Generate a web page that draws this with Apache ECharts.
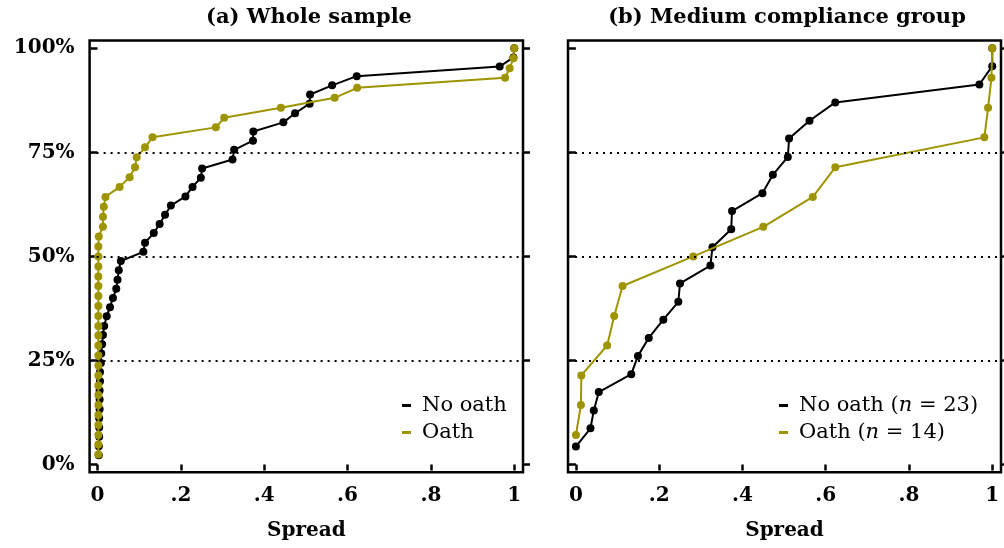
<!DOCTYPE html>
<html><head><meta charset="utf-8">
<script src="https://cdn.jsdelivr.net/npm/echarts@6/dist/echarts.min.js"></script>
<style>html,body{margin:0;padding:0;background:#fff}#c{width:1004px;height:548px}</style>
</head><body><div id="c"></div><script>
// ---- data ----
var panelTitles = ['(a) Whole sample', '(b) Medium compliance group'];
var xTicks = [0, 0.2, 0.4, 0.6, 0.8, 1];
var yTicks = [0, 25, 50, 75, 100];
var refLines = [25, 50, 75];

// Panel (a) whole sample: No oath (n = 45)
var aNoOathX = [0.003,0.003,0.004,0.004,0.004,0.005,0.005,0.005,0.006,0.006,0.008,0.009,0.011,0.013,0.016,0.022,0.030,0.037,0.045,0.048,0.051,0.056,0.110,0.114,0.135,0.149,0.162,0.176,0.211,0.228,0.248,0.251,0.324,0.328,0.373,0.374,0.446,0.474,0.509,0.510,0.563,0.622,0.965,0.998,1.0];
var aNoOathY = [2.2,4.4,6.7,8.9,11.1,13.3,15.6,17.8,20,22.2,24.4,26.7,28.9,31.1,33.3,35.6,37.8,40,42.2,44.4,46.7,48.9,51.1,53.3,55.6,57.8,60,62.2,64.4,66.7,68.9,71.1,73.3,75.6,77.8,80,82.2,84.4,86.7,88.9,91.1,93.3,95.6,97.8,100];
// Panel (a) whole sample: Oath (n = 42)
var aOathX = [0.002,0.002,0.002,0.002,0.002,0.002,0.002,0.002,0.002,0.002,0.002,0.002,0.002,0.002,0.002,0.002,0.002,0.002,0.002,0.002,0.002,0.002,0.003,0.013,0.013,0.015,0.019,0.053,0.077,0.090,0.094,0.114,0.132,0.284,0.304,0.440,0.569,0.623,0.978,0.989,0.998,1.0];
var aOathY = [2.4,4.8,7.1,9.5,11.9,14.3,16.7,19,21.4,23.8,26.2,28.6,31,33.3,35.7,38.1,40.5,42.9,45.2,47.6,50,52.4,54.8,57.1,59.5,61.9,64.3,66.7,69,71.4,73.8,76.2,78.6,81,83.3,85.7,88.1,90.5,92.9,95.2,97.6,100];
// Panel (b) medium compliance: No oath (n = 23)
var bNoOathX = [0.0,0.035,0.043,0.055,0.133,0.149,0.175,0.210,0.246,0.250,0.323,0.328,0.373,0.375,0.448,0.473,0.509,0.512,0.561,0.623,0.969,1.0,1.0];
var bNoOathY = [4.3,8.7,13,17.4,21.7,26.1,30.4,34.8,39.1,43.5,47.8,52.2,56.5,60.9,65.2,69.6,73.9,78.3,82.6,87,91.3,95.7,100];
// Panel (b) medium compliance: Oath (n = 14)
var bOathX = [0.0,0.012,0.013,0.075,0.092,0.112,0.282,0.450,0.569,0.623,0.981,0.990,0.998,1.0];
var bOathY = [7.1,14.3,21.4,28.6,35.7,42.9,50,57.1,64.3,71.4,78.6,85.7,92.9,100];

var seriesNames = ['No oath', 'Oath', 'No oath (n = 23)', 'Oath (n = 14)'];
var colNo = '#000000', colOath = '#9e9400';

function pairs(xs, ys) { return xs.map(function (x, i) { return [x, ys[i]]; }); }

var FONT = 'DejaVu Serif';
var grids = [
  { left: 89.6, top: 40.5, width: 433.4, height: 431.8 },
  { left: 568, top: 40.5, width: 433, height: 431.8 }
];
var chart = echarts.init(document.getElementById('c'), null, { renderer: 'canvas' });

function xAxisFor(gi) {
  return {
    type: 'value', gridIndex: gi, min: -0.019, max: 1.021,
    name: 'Spread', nameLocation: 'middle', nameGap: 48,
    nameTextStyle: { fontFamily: FONT, fontWeight: 'bold', fontSize: 20, color: '#000' },
    axisLine: { show: false },
    axisTick: { show: true, inside: false, length: 6, customValues: xTicks, lineStyle: { color: '#000', width: 2.5 } },
    axisLabel: { show: true, customValues: xTicks, margin: 13, fontFamily: FONT, fontWeight: 'bold', fontSize: 20, color: '#000',
      formatter: function (v) { if (v === 0) return '0'; if (v === 1) return '1'; return String(Math.round(v * 10) / 10).replace(/^0/, ''); } },
    splitLine: { show: false }
  };
}
function yAxisFor(gi, pos, labels) {
  return {
    type: 'value', gridIndex: gi, position: pos, min: -1.87, max: 101.87,
    axisLine: { show: false },
    axisTick: { show: true, inside: false, length: 7, customValues: yTicks, lineStyle: { color: '#000', width: 2.5 } },
    axisLabel: { show: labels, customValues: yTicks, margin: 15, fontFamily: FONT, fontWeight: 'bold', fontSize: 20, color: '#000',
      formatter: function (v) { return v + '%'; } },
    splitLine: { show: false }
  };
}

function lineSeries(name, xi, yi, data, color, z) {
  return {
    name: name, type: 'line', xAxisIndex: xi, yAxisIndex: yi, data: data, z: z,
    symbol: 'circle', symbolSize: 8, showSymbol: true,
    lineStyle: { color: color, width: 2 }, itemStyle: { color: color },
    animation: false
  };
}
function refSeries(xi, yi) {
  return {
    type: 'line', xAxisIndex: xi, yAxisIndex: yi, data: [], silent: true,
    markLine: { silent: true, symbol: ['none', 'none'], label: { show: false },
      lineStyle: { color: '#000', width: 2, type: [2, 5] },
      data: refLines.map(function (v) { return { yAxis: v }; }), animation: false }
  };
}

var legendText = { fontFamily: FONT, fontSize: 21, color: '#000', padding: [0, 0, 0, 6],
  rich: { i: { fontFamily: FONT, fontSize: 21, fontStyle: 'italic', color: '#000' } } };

var option = {
  backgroundColor: '#fff',
  animation: false,
  title: [
    { text: panelTitles[0], left: 304, top: 2, textAlign: 'center', textStyle: { fontFamily: FONT, fontWeight: 'bold', fontSize: 21, color: '#000' } },
    { text: panelTitles[1], left: 782, top: 2, textAlign: 'center', textStyle: { fontFamily: FONT, fontWeight: 'bold', fontSize: 21, color: '#000' } }
  ],
  grid: grids.map(function (g) { return Object.assign({ show: true, borderColor: '#000', borderWidth: 2.5, backgroundColor: 'transparent' }, g); }),
  xAxis: [xAxisFor(0), xAxisFor(1)],
  yAxis: [yAxisFor(0, 'left', true), yAxisFor(0, 'right', false), yAxisFor(1, 'left', false), yAxisFor(1, 'right', false)],
  legend: [
    { data: [seriesNames[0], seriesNames[1]], orient: 'vertical', left: 397, top: 390, itemWidth: 9, itemHeight: 3, itemGap: 6,
      icon: 'rect', textStyle: legendText, selectedMode: false },
    { data: [seriesNames[2], seriesNames[3]], orient: 'vertical', left: 774, top: 390, itemWidth: 9, itemHeight: 3, itemGap: 6,
      icon: 'rect', textStyle: legendText, selectedMode: false,
      formatter: function (n) { return n.replace(/\(n = (\d+)\)/, '({i|n} = $1)'); } }
  ],
  series: [
    refSeries(0, 0),
    lineSeries(seriesNames[0], 0, 0, pairs(aNoOathX, aNoOathY), colNo, 3),
    lineSeries(seriesNames[1], 0, 0, pairs(aOathX, aOathY), colOath, 4),
    refSeries(1, 2),
    lineSeries(seriesNames[2], 1, 2, pairs(bNoOathX, bNoOathY), colNo, 3),
    lineSeries(seriesNames[3], 1, 2, pairs(bOathX, bOathY), colOath, 4)
  ]
};
chart.setOption(option);
</script></body></html>
